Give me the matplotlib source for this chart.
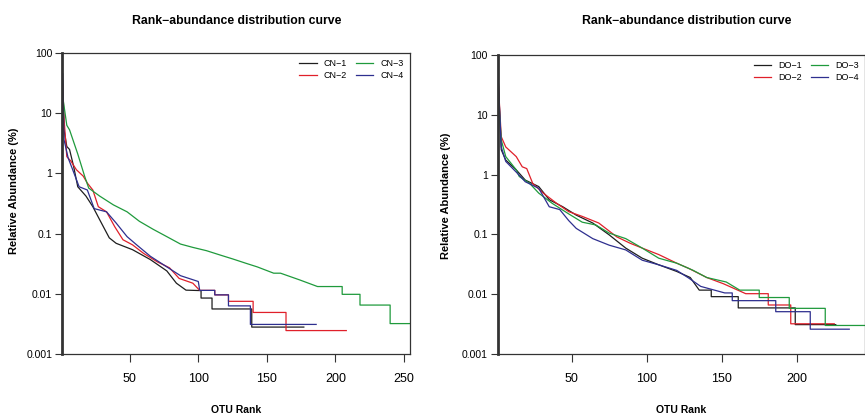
import matplotlib.pyplot as plt

plt.rcParams['font.family'] = ['Liberation Sans', 'DejaVu Sans']

# rank / relative abundance (%)
cn1_rank = [1, 2, 4, 6, 9, 12, 18, 23, 28, 35, 40, 52, 65, 77, 84, 91, 102, 102, 110, 110, 139, 139, 177]
cn1_abund = [35, 5.3, 2.8, 2.5, 1.3, 0.6, 0.42, 0.28, 0.17, 0.085, 0.069, 0.054, 0.037, 0.024, 0.015,
             0.0115, 0.0113, 0.0085, 0.0085, 0.0056, 0.0056, 0.0028, 0.0028]
cn2_rank = [1, 2, 4, 7, 11, 16, 19, 23, 27, 33, 39, 45, 52, 60, 70, 79, 86, 96, 101, 112, 112, 122, 122,
            140, 140, 164, 164, 208]
cn2_abund = [30, 8, 1.9, 1.6, 1.15, 0.9, 0.69, 0.53, 0.28, 0.23, 0.13, 0.079, 0.065, 0.047, 0.034, 0.027,
             0.018, 0.015, 0.0114, 0.0114, 0.0096, 0.0096, 0.0075, 0.0075, 0.0049, 0.0049, 0.00245, 0.00245]
cn3_rank = [1, 4, 6, 12, 17, 20, 28, 38, 48, 57, 67, 77, 87, 96, 106, 116, 125, 135, 143, 155, 160, 174,
            187, 205, 205, 218, 218, 240, 240, 255]
cn3_abund = [19, 6.3, 5.3, 2.1, 0.9, 0.57, 0.42, 0.30, 0.23, 0.16, 0.118, 0.089, 0.067, 0.059, 0.052, 0.044,
             0.038, 0.032, 0.028, 0.022, 0.022, 0.017, 0.0132, 0.0132, 0.0098, 0.0098, 0.0065, 0.0065,
             0.0032, 0.0032]
cn4_rank = [1, 2, 5, 8, 13, 19, 24, 33, 40, 48, 55, 65, 77, 87, 100, 101, 112, 112, 122, 122, 138, 138, 186]
cn4_abund = [45, 3.6, 1.8, 1.2, 0.6, 0.53, 0.26, 0.23, 0.15, 0.089, 0.065, 0.042, 0.028, 0.020, 0.016,
             0.0114, 0.0114, 0.0096, 0.0096, 0.0063, 0.0063, 0.0031, 0.0031]

do1_rank = [1, 3, 6, 13, 19, 28, 35, 44, 53, 64, 75, 86, 97, 108, 120, 129, 135, 143, 143, 161, 161,
            199, 199, 226]
do1_abund = [38, 2.6, 1.75, 1.2, 0.81, 0.63, 0.38, 0.29, 0.21, 0.155, 0.098, 0.059, 0.040, 0.031, 0.024,
             0.019, 0.0117, 0.0117, 0.0091, 0.0091, 0.0059, 0.0059, 0.0031, 0.0031]
do2_rank = [1, 3, 6, 13, 17, 20, 24, 31, 40, 48, 57, 68, 80, 89, 97, 108, 120, 128, 140, 151, 166, 181,
            181, 196, 196, 225]
do2_abund = [35, 4.3, 2.9, 2.0, 1.35, 1.26, 0.71, 0.49, 0.33, 0.24, 0.20, 0.155, 0.091, 0.071, 0.059,
             0.046, 0.033, 0.027, 0.019, 0.015, 0.0102, 0.0102, 0.0066, 0.0066, 0.0032, 0.0032]
do3_rank = [1, 3, 6, 13, 15, 22, 28, 37, 48, 57, 66, 75, 86, 97, 108, 120, 131, 140, 153, 162, 175, 175,
            195, 195, 219, 219, 246]
do3_abund = [25, 3.8, 2.0, 1.2, 0.93, 0.71, 0.49, 0.33, 0.22, 0.16, 0.144, 0.105, 0.085, 0.059, 0.040,
             0.033, 0.025, 0.019, 0.016, 0.0117, 0.0117, 0.0088, 0.0088, 0.0058, 0.0058, 0.0030, 0.0030]
do4_rank = [1, 3, 6, 13, 19, 28, 35, 42, 48, 53, 64, 75, 86, 97, 108, 120, 128, 136, 152, 157, 157, 186,
            186, 209, 209, 235]
do4_abund = [38, 2.9, 1.66, 1.1, 0.76, 0.59, 0.29, 0.26, 0.17, 0.126, 0.085, 0.066, 0.055, 0.037, 0.031,
             0.025, 0.0186, 0.0135, 0.0105, 0.0105, 0.0078, 0.0078, 0.0051, 0.0051, 0.0026, 0.0026]

colors = ['#1e1e1e', '#e0202a', '#1f9a3c', '#2e2f8f']
y_ticks = [0.001, 0.01, 0.1, 1, 10, 100]
y_labels = ['0.001', '0.01', '0.1', '1', '10', '100']

fig = plt.figure(figsize=(8.65, 4.18), dpi=100)


def panel(rect, xmax, series, names, title, title_x, ylab_x, ylab_y):
    ax = fig.add_axes(rect)
    for (r, v), name, c in zip(series, names, colors):
        ax.plot(r, v, color=c, lw=0.9, label=name)
    ax.set_yscale('log')
    ax.set_ylim(0.001, 100)
    ax.set_xlim(0.5, xmax)
    ax.set_xticks([t for t in range(50, int(xmax) + 1, 50)])
    ax.set_yticks(y_ticks)
    ax.set_yticklabels(y_labels)
    ax.minorticks_off()
    ax.tick_params(axis='x', labelsize=9, length=5.5, width=0.8, pad=8, color='#333333')
    ax.tick_params(axis='y', labelsize=7.5, length=5, width=0.8, pad=2, color='#333333')
    for s in ax.spines.values():
        s.set_linewidth(0.9)
        s.set_color('#333333')
    ax.spines['left'].set_linewidth(2.0)
    ax.legend(ncol=2, loc='upper right', frameon=False, fontsize=6.5, handlelength=1.9,
              columnspacing=1.0, handletextpad=0.8, labelspacing=0.3, borderaxespad=0.3)
    fig.text(title_x, 0.95, title, ha='center', va='center', fontsize=8.8, fontweight='bold')
    fig.text(rect[0] + rect[2] / 2, 0.02, 'OTU Rank', ha='center', va='center', fontsize=7.5,
             fontweight='bold')
    fig.text(ylab_x, ylab_y, 'Relative Abundance (%)', rotation=90, ha='center', va='center',
             fontsize=8, fontweight='bold')
    return ax


title = 'Rank\u2212abundance distribution curve'
panel([62 / 865, 1 - 354 / 418, 348 / 865, 301 / 418], 254.5,
      [(cn1_rank, cn1_abund), (cn2_rank, cn2_abund), (cn3_rank, cn3_abund), (cn4_rank, cn4_abund)],
      ['CN\u22121', 'CN\u22122', 'CN\u22123', 'CN\u22124'], title, 237 / 865, 14 / 865, 1 - 191 / 418)
panel([497.5 / 865, 1 - 354 / 418, 367.5 / 865, 299 / 418], 245.5,
      [(do1_rank, do1_abund), (do2_rank, do2_abund), (do3_rank, do3_abund), (do4_rank, do4_abund)],
      ['DO\u22121', 'DO\u22122', 'DO\u22123', 'DO\u22124'], title, 687 / 865, 446 / 865, 1 - 196 / 418)

fig.savefig('out.png', dpi=100)
